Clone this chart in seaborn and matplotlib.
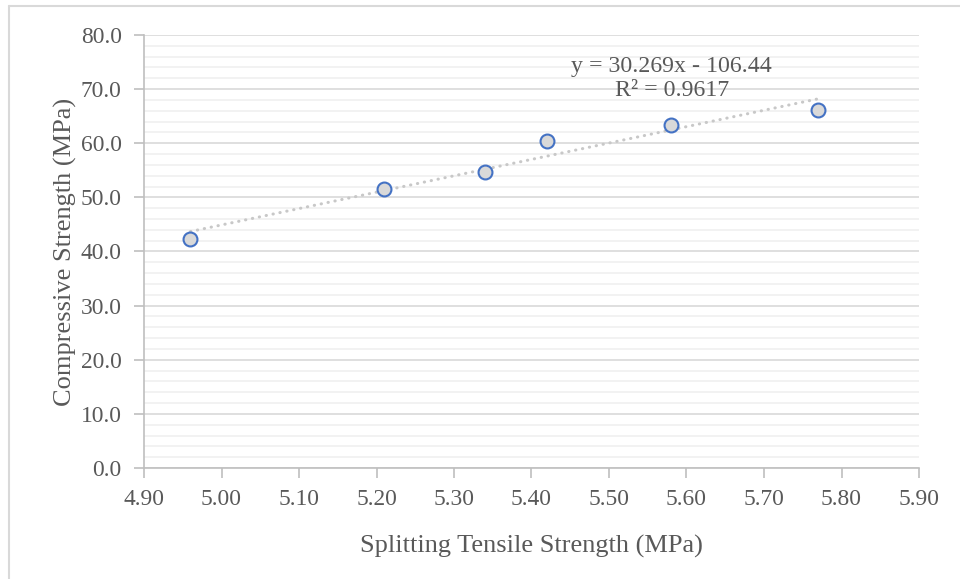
import matplotlib
matplotlib.use("Agg")
import matplotlib.pyplot as plt
import seaborn as sns
import numpy as np
import pandas as pd
from matplotlib.ticker import MultipleLocator
from matplotlib.lines import Line2D

# Data
tensile = [4.96, 5.21, 5.34, 5.42, 5.58, 5.77]
compressive = [42.4, 51.5, 54.7, 60.4, 63.3, 66.2]
slope = 30.269
intercept = -106.44
eq_text = "y = 30.269x - 106.44\nR² = 0.9617"
x_label = "Splitting Tensile Strength (MPa)"
y_label = "Compressive Strength (MPa)"

df = pd.DataFrame({"x": tensile, "y": compressive})

sns.set_theme(style="white")
plt.rcParams['font.family'] = ['Liberation Serif', 'DejaVu Serif']
txt = "#595959"

fig = plt.figure(figsize=(9.6, 5.79), dpi=100)
ax = fig.add_axes([144/960, 1-468/579, (919-144)/960, (468-35)/579])

ax.set_xlim(4.90, 5.90)
ax.set_ylim(0, 80)
ax.yaxis.set_major_locator(MultipleLocator(10))
ax.yaxis.set_minor_locator(MultipleLocator(2))
ax.xaxis.set_major_locator(MultipleLocator(0.1))
ax.set_axisbelow(True)
ax.grid(which="major", axis="y", color="#d9d9d9", lw=1.2)
ax.grid(which="minor", axis="y", color="#f0f0f0", lw=1.2)
ax.grid(which="major", axis="x", visible=False)

# trendline
xt = np.array([min(tensile), max(tensile)])
ax.plot(xt, slope*xt + intercept, color="#c8c8c8", lw=2.2, linestyle=(0, (0.1, 2.2)),
        dash_capstyle="round", zorder=2)

sns.scatterplot(data=df, x="x", y="y", ax=ax, s=100, color="#d9d9d9",
                edgecolor="#4472c4", linewidth=1.5, zorder=3)

for s in ["top", "right"]:
    ax.spines[s].set_visible(False)
for s in ["left", "bottom"]:
    ax.spines[s].set_color("#bfbfbf")
    ax.spines[s].set_linewidth(1.2)

ax.xaxis.set_major_formatter(matplotlib.ticker.FormatStrFormatter("%.2f"))
ax.yaxis.set_major_formatter(matplotlib.ticker.FormatStrFormatter("%.1f"))
ax.tick_params(axis="both", which="major", direction="out", length=7, width=1.2,
               color="#bfbfbf", labelcolor=txt, labelsize=16.9, left=True, bottom=True)
ax.tick_params(axis="y", which="major", pad=9)
ax.tick_params(axis="x", which="major", pad=8)
ax.tick_params(axis="y", which="minor", left=False)

ax.set_xlabel(x_label, fontsize=19, color=txt, labelpad=18)
ax.set_ylabel(y_label, fontsize=19, color=txt, labelpad=3)

ax.text(5.581, 71.96, eq_text, ha="center", va="center", fontsize=17.2, color=txt,
        linespacing=1.15)

# chart border (left and top edges)
fig.add_artist(Line2D([9/960, 9/960], [0, 1-6/579], color="#d9d9d9", lw=1.5, transform=fig.transFigure))
fig.add_artist(Line2D([9/960, 1], [1-6/579, 1-6/579], color="#d9d9d9", lw=1.5, transform=fig.transFigure))

fig.savefig("out.png", dpi=100)
